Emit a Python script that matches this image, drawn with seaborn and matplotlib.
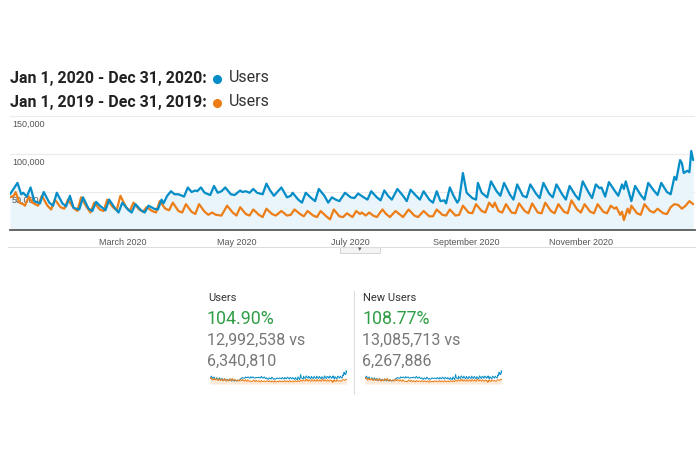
import pandas as pd
import matplotlib.pyplot as plt
import matplotlib.dates as mdates
from matplotlib.lines import Line2D
from matplotlib.patches import Rectangle
import seaborn as sns

# Users per day (thousands); day = day of year
days_2020 = [0, 4, 6, 7, 9, 11, 13, 16, 18, 21, 23, 25, 28, 30, 32, 34, 37, 39, 42, 44,
             46, 48, 51, 53, 56, 58, 60, 63, 65, 67, 70, 72, 74, 77, 79, 81, 82, 84, 86, 88,
             90, 93, 95, 97, 99, 100, 102, 104, 107, 109, 111, 113, 115, 118, 120, 123, 124, 126, 128, 130,
             132, 135, 137, 139, 141, 145, 148, 150, 151, 154, 156, 158, 161, 163, 165, 168, 170, 172, 174, 176,
             179, 182, 184, 186, 189, 191, 193, 196, 198, 200, 202, 204, 207, 210, 212, 214, 217, 219, 221, 224,
             226, 228, 230, 232, 233, 235, 237, 239, 240, 242, 244, 247, 249, 250, 252, 255, 257, 260, 262, 264,
             267, 269, 271, 274, 276, 278, 281, 283, 285, 288, 290, 292, 295, 297, 299, 302, 304, 306, 309, 311,
             313, 315, 316, 318, 320, 323, 325, 327, 328, 329, 332, 334, 337, 339, 341, 344, 346, 348, 351, 353,
             355, 356, 358, 359, 360, 362, 363, 364, 365]
users_2020 = [47, 62, 47, 49, 44, 56, 38, 35, 50, 36, 32, 49, 35, 31, 45, 29, 27, 43, 28, 25,
              37, 32, 26, 40, 29, 23, 36, 27, 23, 34, 26, 23, 32, 28, 27, 40, 35, 45, 51, 47,
              47, 44, 56, 50, 52, 51, 56, 49, 46, 58, 49, 51, 56, 47, 46, 52, 50, 51, 49, 54,
              49, 47, 61, 52, 45, 56, 43, 45, 49, 40, 36, 49, 42, 38, 54, 45, 36, 43, 40, 38,
              49, 43, 42, 48, 43, 40, 51, 43, 39, 52, 45, 40, 54, 45, 38, 53, 45, 40, 51, 40,
              36, 51, 38, 39, 35, 56, 45, 36, 40, 75, 49, 42, 40, 62, 49, 43, 64, 51, 45, 62,
              47, 40, 60, 45, 43, 60, 48, 42, 62, 48, 43, 60, 47, 40, 58, 46, 40, 64, 50, 42,
              60, 55, 56, 44, 63, 52, 45, 60, 54, 64, 38, 58, 46, 40, 62, 52, 46, 62, 50, 47,
              70, 66, 92, 88, 75, 78, 76, 104, 92]

days_2019 = [0, 2, 3, 5, 7, 8, 10, 12, 15, 17, 20, 22, 24, 27, 29, 31, 34, 36, 38, 41,
             43, 45, 48, 50, 52, 55, 57, 59, 62, 64, 66, 69, 71, 73, 76, 78, 80, 83, 85, 87,
             90, 92, 94, 97, 99, 101, 104, 106, 108, 110, 113, 116, 119, 121, 123, 126, 128, 130, 133, 135,
             137, 140, 142, 145, 148, 150, 152, 155, 157, 159, 162, 164, 166, 169, 171, 173, 176, 178, 180, 183,
             185, 187, 188, 190, 192, 194, 196, 199, 201, 203, 206, 208, 210, 213, 216, 218, 221, 224, 226, 228,
             231, 233, 235, 238, 240, 242, 245, 247, 249, 252, 254, 256, 258, 259, 261, 263, 265, 268, 270, 272,
             275, 277, 279, 282, 284, 286, 289, 291, 293, 296, 298, 300, 303, 305, 307, 310, 312, 314, 317, 319,
             321, 323, 324, 326, 327, 328, 330, 331, 332, 335, 337, 339, 342, 344, 346, 349, 351, 353, 355, 357,
             359, 361, 363, 364, 365]
users_2019 = [43, 45, 50, 36, 34, 32, 44, 36, 32, 45, 32, 27, 40, 30, 28, 40, 29, 25, 43, 30,
              23, 36, 27, 25, 40, 30, 26, 45, 30, 25, 36, 27, 24, 30, 25, 23, 38, 28, 26, 36,
              25, 23, 34, 24, 21, 34, 24, 20, 23, 20, 19, 32, 23, 19, 30, 21, 19, 27, 20, 17,
              28, 21, 19, 25, 19, 20, 27, 21, 18, 25, 19, 17, 25, 18, 14, 27, 18, 17, 22, 17,
              25, 21, 23, 19, 23, 19, 17, 27, 21, 17, 25, 21, 17, 27, 19, 17, 25, 18, 18, 27,
              20, 19, 27, 19, 20, 32, 23, 22, 34, 25, 23, 36, 30, 36, 25, 23, 34, 23, 22, 35,
              25, 22, 35, 23, 22, 36, 25, 22, 34, 24, 22, 39, 27, 23, 34, 24, 22, 34, 24, 22,
              32, 28, 30, 20, 24, 13, 28, 22, 32, 22, 20, 34, 25, 23, 28, 22, 21, 30, 34, 33,
              28, 32, 38, 36, 34]

tick_months = ["2020-03-01", "2020-05-01", "2020-07-01", "2020-09-01", "2020-11-01"]
y_ticks = [50000, 100000, 150000]

legend_2020 = "Jan 1, 2020 - Dec 31, 2020:"
legend_2019 = "Jan 1, 2019 - Dec 31, 2019:"
metric_names = ["Users", "New Users"]
metric_changes = ["104.90%", "108.77%"]
metric_current = ["12,992,538 vs", "13,085,713 vs"]
metric_previous = ["6,340,810", "6,267,886"]

BLUE = "#058dc7"
ORANGE = "#ed7e17"
FILL = "#e9f4fb"

start = pd.Timestamp("2020-01-01")
df20 = pd.DataFrame({"date": start + pd.to_timedelta(days_2020, unit="D"),
                     "users": [v * 1000 for v in users_2020]})
df19 = pd.DataFrame({"date": start + pd.to_timedelta(days_2019, unit="D"),
                     "users": [v * 1000 for v in users_2019]})

sns.set_style("white")
plt.rcParams["font.family"] = ["Liberation Sans", "DejaVu Sans"]

fig = plt.figure(figsize=(7, 4.55), dpi=100)
W, H = 700, 455


def fx(px):
    return px / W


def fy(py):
    return 1 - py / H


# main chart
ax = fig.add_axes([fx(10), fy(230), fx(685), 114 / H])
ax.fill_between(df20["date"], df20["users"], color=FILL, zorder=1, lw=0)
sns.lineplot(data=df20, x="date", y="users", color=BLUE, lw=1.6, ax=ax, zorder=4)
sns.lineplot(data=df19, x="date", y="users", color=ORANGE, lw=1.6, ax=ax, zorder=3)

ax.set_xlim(start, start + pd.Timedelta(days=366))
ax.set_ylim(0, 150000)
ax.set_yticks(y_ticks)
ax.yaxis.grid(True, color="#ebebeb", lw=0.8)
ax.set_axisbelow(True)
ax.tick_params(axis="y", left=False, labelleft=False)
for v in y_ticks:
    ax.annotate(f"{v:,}", (0, v), xycoords=ax.get_yaxis_transform(),
                xytext=(1.5, -3), textcoords="offset points",
                ha="left", va="top", fontsize=6.5, color="#555555", zorder=2)

ax.set_xticks(pd.to_datetime(tick_months))
ax.xaxis.set_major_formatter(mdates.DateFormatter("%B %Y"))
ax.tick_params(axis="x", bottom=False, labelsize=6.5, labelcolor="#555555", pad=2.5)
ax.set_xlabel("")
ax.set_ylabel("")
for s in ["top", "left", "right"]:
    ax.spines[s].set_visible(False)
ax.spines["bottom"].set_color("#5a5a5a")
ax.spines["bottom"].set_linewidth(1.3)

# bottom border of the chart with the small collapse tab
fig.add_artist(Line2D([fx(8), fx(695)], [fy(247), fy(247)], color="#dddddd", lw=0.8))
fig.add_artist(Rectangle((fx(340), fy(253)), fx(40), 6 / H, facecolor="#f4f4f4",
                         edgecolor="#cccccc", lw=0.6))
fig.text(fx(360), fy(250), "▾", ha="center", va="center", fontsize=5, color="#666666")

# legend lines at the top
for yy, label, col in [(78, legend_2020, BLUE), (102, legend_2019, ORANGE)]:
    fig.text(fx(10), fy(yy), label, fontsize=11.5, fontweight="bold", color="#222222",
             va="center", family=["Roboto", "DejaVu Sans"])
    fig.add_artist(Line2D([fx(217)], [fy(yy + 1)], marker="o", markersize=5.5,
                          color=col, lw=0))
    fig.text(fx(229), fy(yy), "Users", fontsize=11.5, color="#333333", va="center",
             family=["Roboto", "DejaVu Sans"])

# scorecards with sparklines
for i, left in enumerate([208, 363]):
    fam = ["Roboto", "DejaVu Sans"]
    fig.text(fx(left), fy(298), metric_names[i], fontsize=8, color="#333333",
             va="center", family=fam)
    fig.text(fx(left - 1), fy(319), metric_changes[i], fontsize=12.8, color="#2f9e46",
             va="center", family=fam)
    fig.text(fx(left - 1), fy(340), metric_current[i], fontsize=11.5, color="#777777",
             va="center", family=fam)
    fig.text(fx(left - 1), fy(361), metric_previous[i], fontsize=11.5, color="#777777",
             va="center", family=fam)

    sp = fig.add_axes([fx(left + 2), fy(384), fx(137), 14 / H])
    sp.fill_between(df19["date"], df19["users"], color="#fbe9da", lw=0)
    sns.lineplot(data=df20, x="date", y="users", color=BLUE, lw=0.7, ax=sp)
    sns.lineplot(data=df19, x="date", y="users", color=ORANGE, lw=0.7, ax=sp)
    sp.set_xlim(start, start + pd.Timedelta(days=366))
    sp.set_ylim(0, 110000)
    sp.axis("off")

fig.add_artist(Line2D([fx(354), fx(354)], [fy(291), fy(394)], color="#dddddd", lw=0.8))

fig.savefig("out.png", dpi=100)
